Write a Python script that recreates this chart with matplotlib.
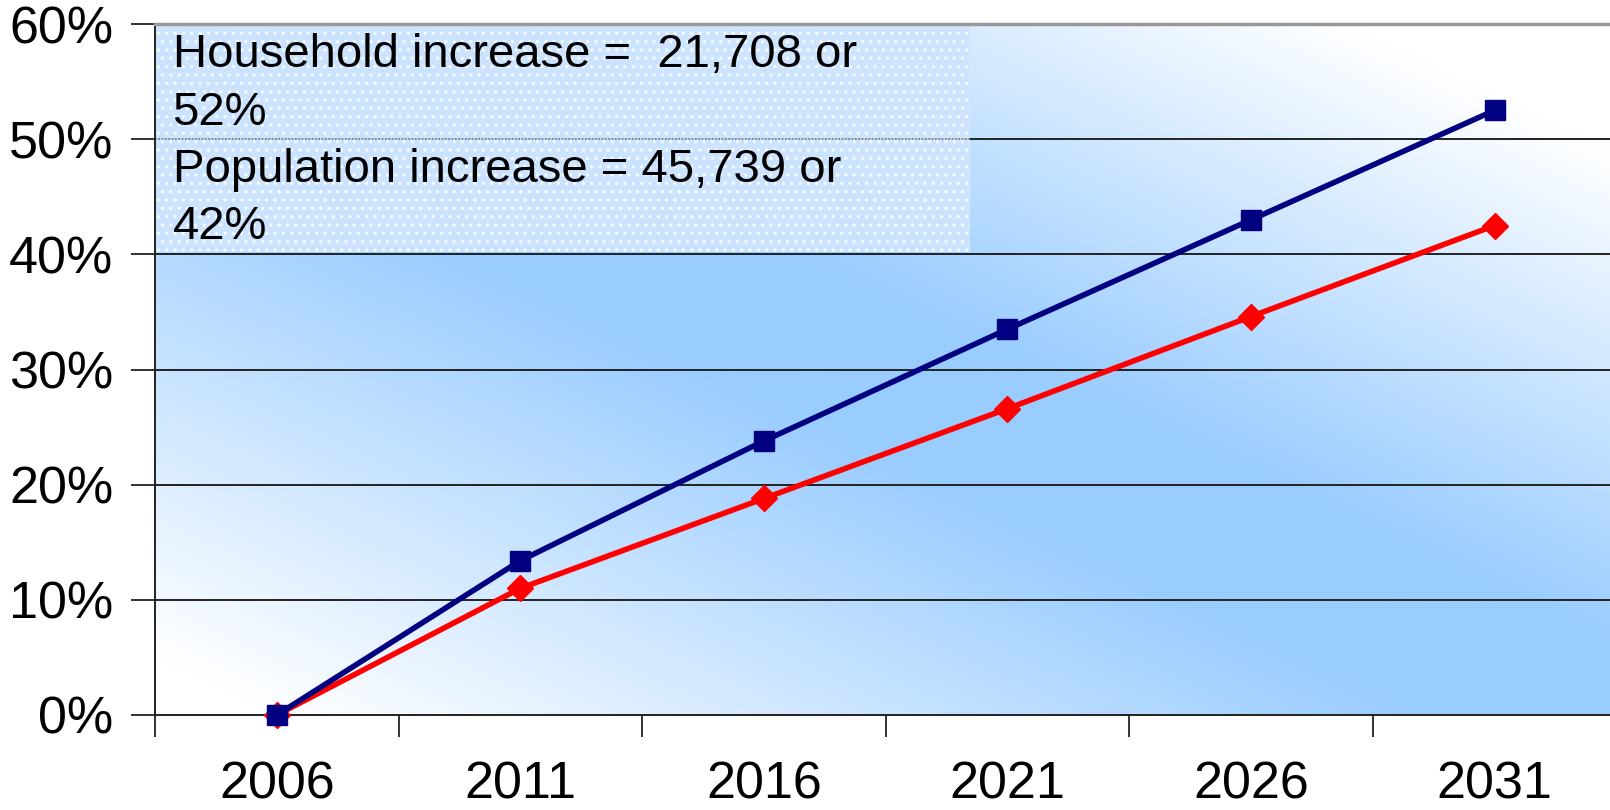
import numpy as np
import matplotlib
matplotlib.use('Agg')
import matplotlib.pyplot as plt
from matplotlib.patches import Rectangle

years = ['2006', '2011', '2016', '2021', '2026', '2031']
household = [0.0, 13.4, 23.8, 33.5, 43.0, 52.5]
population = [0.0, 11.0, 18.8, 26.6, 34.6, 42.5]
yticks = [0, 10, 20, 30, 40, 50, 60]
note_lines = ['Household increase =  21,708 or', '52%',
              'Population increase = 45,739 or', '42%']

plt.rcParams['font.family'] = ['Liberation Sans', 'DejaVu Sans']
plt.rcParams['hatch.linewidth'] = 1.2

fig = plt.figure(figsize=(16.1, 8.1), dpi=100)
ax = fig.add_axes([155 / 1610, 95 / 810, 1 - 155 / 1610, (715 - 24) / 810])

x = np.arange(len(years))
ax.set_xlim(-0.5, 5.474)
ax.set_ylim(0, 60)

# diagonal gradient background: blue along the top-left/bottom-right diagonal
u, v = np.meshgrid(np.linspace(0, 1, 400), np.linspace(1, 0, 200))
s = u + v - 1
w = np.where(s > 0, 1 - (s - 0.1) / 0.72, 1 - (-s - 0.12) / 0.8)
w = np.clip(w, 0, 1)
blue = np.array([153, 204, 255]) / 255
img = (1 - w[..., None]) * np.ones(3) + w[..., None] * blue
ax.imshow(img, extent=[0, 1, 0, 1], transform=ax.transAxes, aspect='auto',
          zorder=0, interpolation='bilinear')

for yv in yticks[1:-1]:
    ax.axhline(yv, color='#222222', lw=1.4, zorder=1)

# annotation box with dotted texture
ax.add_patch(Rectangle((-0.5, 40.2), 3.348, 19.8, facecolor='#cfe5ff',
                       edgecolor='none', alpha=0.93, zorder=2))
ax.add_patch(Rectangle((-0.5, 40.2), 3.348, 19.8, facecolor='none',
                       edgecolor='white', hatch='..', lw=0, alpha=0.8, zorder=2))
ax.axhline(50, xmax=0.56, color='#777777', lw=1.2, ls=(0, (1, 1)), zorder=2)
ax.axvline(-0.5, ymin=0.67, color='#888888', lw=1.2, ls=(0, (1, 1)), zorder=2)
for txt, yb in zip(note_lines, [56.3, 51.2, 46.3, 41.3]):
    ax.text(-0.428, yb, txt, fontsize=34, va='baseline', ha='left', zorder=3)

ax.plot(x, population, color='#ff0000', lw=4, marker='D', markersize=13, zorder=4,
        clip_on=False)
ax.plot(x, household, color='#000080', lw=4, marker='s', markersize=14, zorder=5,
        clip_on=False)

ax.set_yticks(yticks)
ax.set_yticklabels([f'{t}%' for t in yticks], fontsize=37.5)
ax.tick_params(axis='y', length=17, width=1.3, pad=13, color='#222222')

ax.set_xticks(np.arange(-0.5, 5.5, 1.0))
ax.set_xticklabels([])
ax.tick_params(axis='x', which='major', length=16, width=1.3, color='#222222')
ax.set_xticks(x, minor=True)
ax.set_xticklabels(years, minor=True, fontsize=37.5)
ax.tick_params(axis='x', which='minor', length=0, pad=33)

ax.spines['top'].set_color('#999999')
ax.spines['top'].set_linewidth(2.5)
ax.spines['right'].set_visible(False)
ax.spines['left'].set_color('#222222')
ax.spines['bottom'].set_color('#222222')
ax.spines['left'].set_linewidth(1.4)
ax.spines['bottom'].set_linewidth(1.4)

fig.savefig('out.png', dpi=100)
